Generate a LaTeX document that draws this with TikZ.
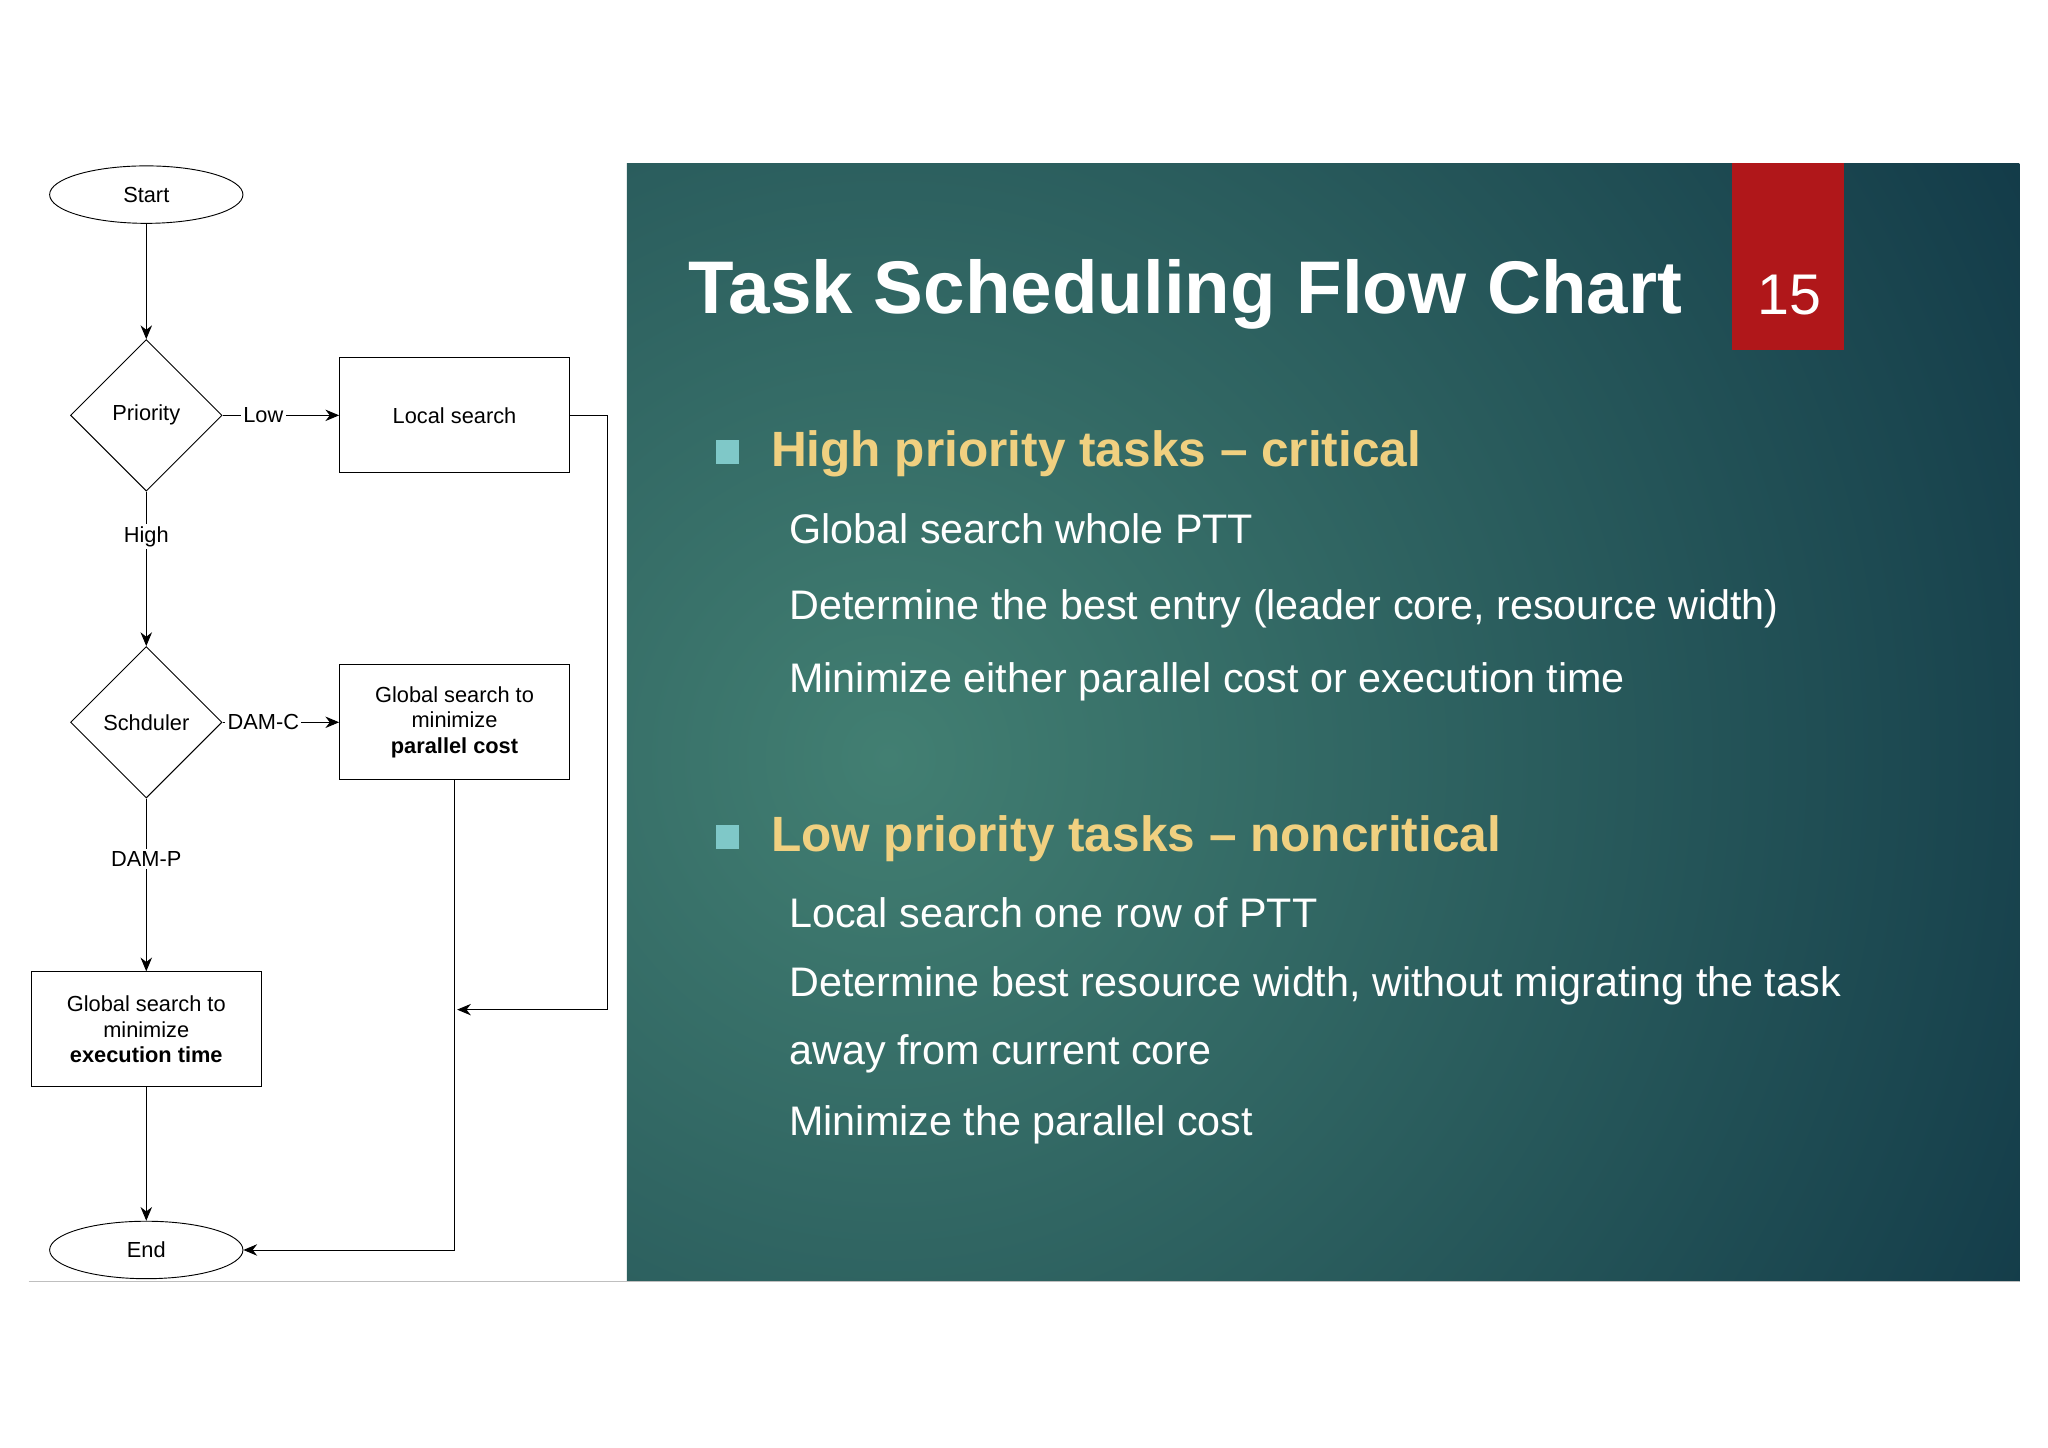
\documentclass[tikz,border=0pt]{standalone}
\usepackage{fontspec}
\setmainfont{Liberation Sans}
\usetikzlibrary{shapes.geometric,arrows.meta}
\definecolor{teal1}{HTML}{427F72}
\definecolor{teal2}{HTML}{123A48}
\definecolor{redbox}{HTML}{B0171A}
\definecolor{yel}{HTML}{F0D080}
\definecolor{sq}{HTML}{7FC8C8}
\tikzset{
 fc/.style={font=\fontsize{9.5}{11}\selectfont},
 term/.style={ellipse,draw,fc,minimum width=148*0.02cm,minimum height=44*0.02cm,inner sep=0},
 dec/.style={diamond,draw,fc,minimum width=116*0.02cm,minimum height=116*0.02cm,inner sep=0},
 box/.style={rectangle,draw,fc,minimum width=176*0.02cm,minimum height=88*0.02cm,align=center,inner sep=1pt},
 lab/.style={fc,fill=white,inner sep=1pt},
 arr/.style={-{Stealth[length=6pt,width=5pt]}},
 head/.style={anchor=base west,text=yel,font=\bfseries\fontsize{21.6}{26}\selectfont},
 body/.style={anchor=base west,text=white,font=\fontsize{18}{21}\selectfont},
}
\begin{document}
\begin{tikzpicture}[x=0.02cm,y=-0.02cm]
\useasboundingbox (0,0) rectangle (1568,1108);
\fill[white] (0,0) rectangle (1568,1108);
% panel
\begin{scope}
\clip (480,125) rectangle (1546,981);
\fill[teal2] (480,125) rectangle (1546,981);
\shade[inner color=teal1,outer color=teal2] (680,580) circle (1000);
\end{scope}
\fill[redbox] (1326,125) rectangle (1412,268);
\node[anchor=base west,text=white,font=\bfseries\fontsize{32.5}{38}\selectfont,inner sep=0] (title) at (527,240) {Task Scheduling Flow Chart};
\node[text=white,font=\fontsize{25}{30}\selectfont] (num) at (1370,226) {15};
\fill[sq] (548,337) rectangle (566,355);
\node[head,inner sep=0] (h1) at (590,357) {High priority tasks -- critical};
\node[body,inner sep=0] (b1) at (604,416) {Global search whole PTT};
\node[body,inner sep=0] (b2) at (604,474) {Determine the best entry (leader core, resource width)};
\node[body,inner sep=0] (b3) at (604,530) {Minimize either parallel cost or execution time};
\fill[sq] (548,632) rectangle (566,650);
\node[head,inner sep=0] (h2) at (590,652) {Low priority tasks -- noncritical};
\node[body,inner sep=0] (b4) at (604,710) {Local search one row of PTT};
\node[body,inner sep=0] (b5) at (604,763) {Determine best resource width, without migrating the task};
\node[body,inner sep=0] (b6) at (604,815) {away from current core};
\node[body,inner sep=0] (b7) at (604,869) {Minimize the parallel cost};
\draw[gray!50] (22,981) -- (1546,981);
% flowchart
\node[term] (start) at (112,149) {Start};
\node[dec] (prio) at (112,318) {Priority};
\node[box] (local) at (348,318) {Local search};
\node[dec] (sched) at (112,553) {Schduler};
\node[box] (gpc) at (348,553) {Global search to\\minimize\\\textbf{parallel cost}};
\node[box] (gex) at (112,788) {Global search to\\minimize\\\textbf{execution time}};
\node[term] (end) at (112,957) {End};
\coordinate (m1) at (465,773);
\draw[arr] (start) -- (prio);
\draw[arr] (prio) -- node[lab,pos=0.35]{Low} (local);
\draw[arr] (prio) -- node[lab,pos=0.29]{High} (sched);
\draw[arr] (sched) -- node[lab,pos=0.35]{DAM-C} (gpc);
\draw[arr] (sched) -- node[lab,pos=0.35]{DAM-P} (gex);
\draw[arr] (gex) -- (end);
\draw[arr] (local.east) -| (m1) -- (350,773);
\draw[arr] (gpc.south) |- (end.east);
\end{tikzpicture}
\end{document}
